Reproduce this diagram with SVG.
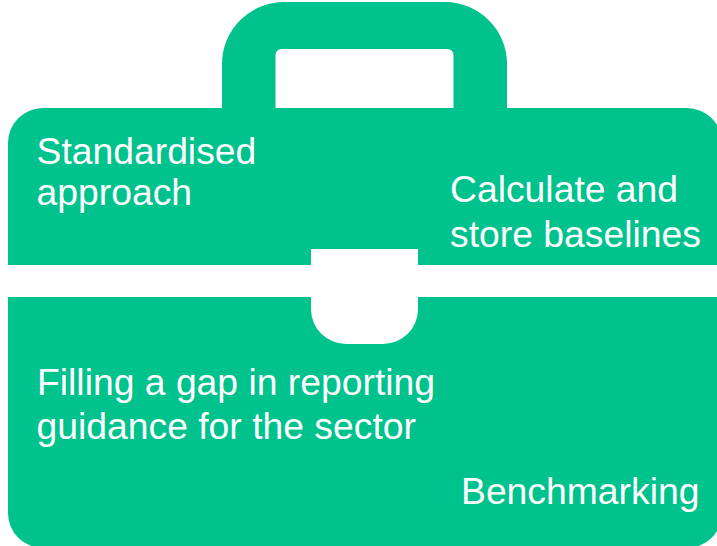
<svg xmlns="http://www.w3.org/2000/svg" width="717" height="546" viewBox="0 0 717 546">
<style>
.s{fill:#00c28c}
text{fill:#fff;font-family:"Liberation Sans",Arial,sans-serif;font-size:37.3px}
</style>
<rect width="717" height="546" fill="#fff"/>
<g id="case">
<path id="handle" class="s" fill-rule="evenodd" d="M222 108V64A62 62 0 0 1 284 2H445A62 62 0 0 1 507 64V108H453.500V55A6 6 0 0 0 447.500 49H281.500A6 6 0 0 0 275.500 55V108Z"/>
<path id="upper" class="s" d="M8 265V143A35 35 0 0 1 43 108H687A35 35 0 0 1 722 143V265H418V249H311V265Z"/>
<path id="lower" class="s" d="M8 297H311V309A35 35 0 0 0 346 344H383A35 35 0 0 0 418 309V297H722V513A35 35 0 0 1 687 548H43A35 35 0 0 1 8 513Z"/>
</g>
<g id="label-standardised"><text x="36.500" y="164">Standardised</text><text x="36.500" y="205">approach</text></g>
<g id="label-baselines"><text x="450" y="202">Calculate and</text><text x="450" y="247">store baselines</text></g>
<g id="label-gap"><text x="37" y="394.500">Filling a gap in reporting</text><text x="36.500" y="439">guidance for the sector</text></g>
<g id="label-benchmarking"><text x="461" y="504">Benchmarking</text></g>
<g id="connectors"/>
</svg>
